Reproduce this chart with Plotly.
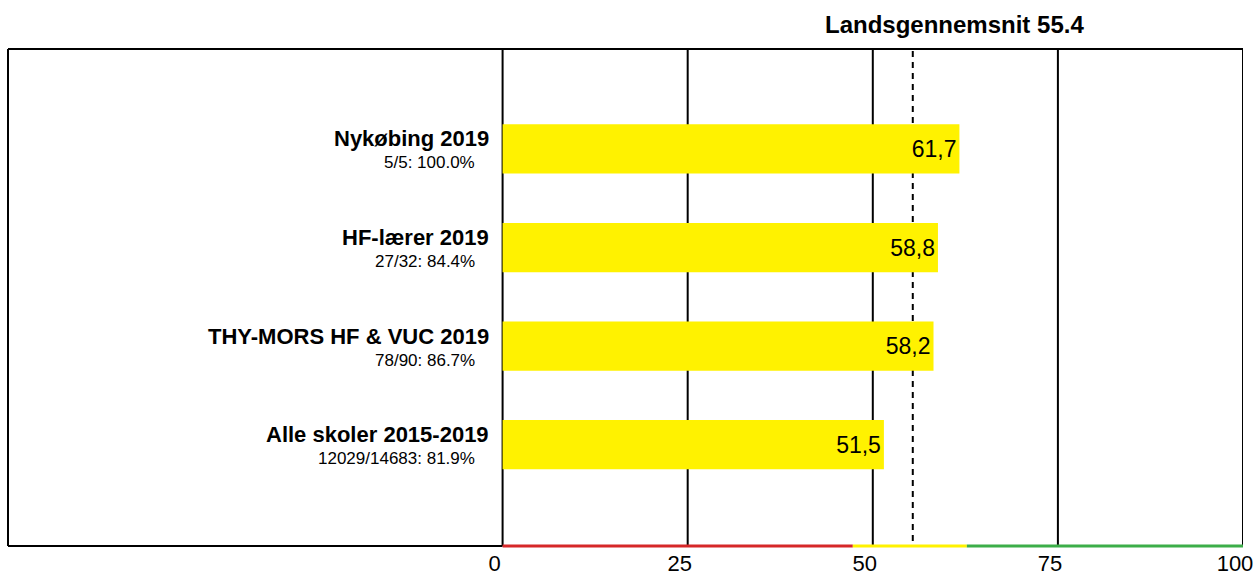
import plotly.graph_objects as go

# data
labels = ["Alle skoler 2015-2019", "THY-MORS HF & VUC 2019", "HF-lærer 2019", "Nykøbing 2019"]
sublabels = ["12029/14683: 81.9%", "78/90: 86.7%", "27/32: 84.4%", "5/5: 100.0%"]
values = [51.5, 58.2, 58.8, 61.7]
avg = 55.4
ticks = [0, 25, 50, 75, 100]
band_edges = [0, 47.3, 62.7, 100]
band_colors = ["#d62728", "#fff200", "#3cae49"]

pos = list(range(len(labels)))
txt = [f"{v:.1f}".replace(".", ",") for v in values]
xmin = -66.8

fig = go.Figure(go.Bar(
    x=values, y=pos, orientation="h", width=0.5,
    marker=dict(color="#fff200", line=dict(width=0)),
    text=txt, textposition="inside", insidetextanchor="end",
    insidetextfont=dict(color="black", size=23, family="Liberation Sans, Arial"),
    cliponaxis=False, hoverinfo="skip",
))

shapes = []
# gridlines
for t in ticks:
    shapes.append(dict(type="line", xref="x", yref="paper", x0=t, x1=t, y0=0, y1=1,
                       line=dict(color="black", width=2), layer="below"))
# national average
shapes.append(dict(type="line", xref="x", yref="paper", x0=avg, x1=avg, y0=0.01, y1=1,
                   line=dict(color="black", width=2, dash="6px,5px"), layer="below"))
# frame
shapes.append(dict(type="line", xref="paper", yref="paper", x0=0, x1=1, y0=1, y1=1,
                   line=dict(color="black", width=2)))
shapes.append(dict(type="line", xref="paper", yref="paper", x0=0, x1=0, y0=0, y1=1,
                   line=dict(color="black", width=2)))
shapes.append(dict(type="line", xref="x", yref="paper", x0=xmin, x1=0, y0=0, y1=0,
                   line=dict(color="black", width=2)))
# colored scale along the bottom
for i, c in enumerate(band_colors):
    shapes.append(dict(type="line", xref="x", yref="paper", x0=band_edges[i], x1=band_edges[i + 1],
                       y0=0, y1=0, line=dict(color=c, width=3)))

ann = []
for p, lab, sub in zip(pos, labels, sublabels):
    ann.append(dict(x=0, y=p, xref="x", yref="y", text="<b>" + lab + "</b>", showarrow=False,
                    xanchor="right", yanchor="middle", xshift=-12, yshift=10,
                    font=dict(size=22, color="black")))
    ann.append(dict(x=0, y=p, xref="x", yref="y", text=sub, showarrow=False,
                    xanchor="right", yanchor="middle", xshift=-26, yshift=-14,
                    font=dict(size=17, color="black")))
ann.append(dict(x=0.7666, y=1, xref="paper", yref="paper", xanchor="center", yanchor="middle",
                yshift=25, text="<b>Landsgennemsnit " + str(avg) + "</b>", showarrow=False,
                font=dict(size=24, color="black")))

fig.update_layout(
    width=1255, height=576,
    margin=dict(l=8, r=12, t=49, b=30, autoexpand=False),
    paper_bgcolor="white", plot_bgcolor="white",
    font=dict(family="Liberation Sans, Arial", color="black"),
    showlegend=False,
    shapes=shapes, annotations=ann,
    xaxis=dict(range=[xmin, 100], tickvals=ticks, showgrid=False, zeroline=False,
               showline=False, ticks="", tickfont=dict(size=22), fixedrange=True,
               automargin=False, ticklabeloverflow="allow", ticklabelstandoff=2,
               ticklabelshift=-8),
    yaxis=dict(range=[-1.03, 4.015], showticklabels=False, showgrid=False, zeroline=False,
               showline=False, fixedrange=True, automargin=False),
)

# page without the default body margin, so the figure fills the window exactly
fig.write_html("out.html", config={"displayModeBar": False},
               post_script="document.body.style.margin='0';document.body.style.overflow='hidden';")
